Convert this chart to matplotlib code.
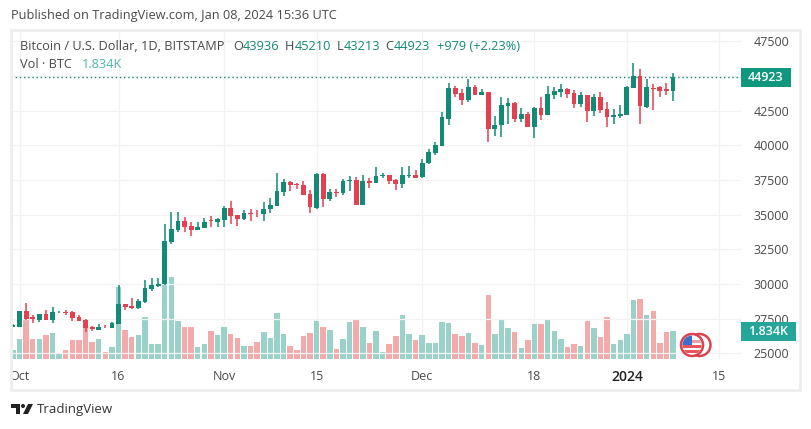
import matplotlib
matplotlib.use("Agg")
import matplotlib.pyplot as plt
from matplotlib.patches import Rectangle, Circle, Polygon

# daily candles, 30 Sep 2023 .. 8 Jan 2024
opens = [26923, 26923, 28054, 27621, 27405, 27838, 27429, 27958, 27982, 27982, 27621, 27404, 26923, 26707, 26923, 26851,
         27116, 28559, 28415, 28270, 28703, 29641, 29858, 29978, 33008, 33898, 34547, 34187, 33922, 34042, 34620, 34499,
         34620, 35461, 34956, 34692, 35100, 35076, 35076, 35413, 35654, 36640, 37361, 37217, 37145, 36495, 35509, 37938,
         36135, 36640, 36567, 37433, 37505, 35702, 37433, 37313, 37818, 37866, 37505, 37217, 37770, 37866,
         37746, 38708, 39455, 39985, 41910, 44145, 43785, 43280, 44215, 43640, 43855, 41185, 41475, 42870, 43060, 41907,
         42270, 41330, 42700, 42195, 43640, 43830, 44070, 43785, 42990, 43640, 42485, 43495, 42630, 42075, 42100,
         42195, 44144, 45000, 42800, 44160, 44240, 44040, 43936]
highs = [27116, 28054, 28631, 27765, 27838, 28126, 28343, 28054, 28126, 28054, 27765, 27477, 26972, 27092, 27044, 27260,
         29930, 28559, 28968, 28944, 30290, 30411, 30411, 34331, 35173, 35173, 34812, 34500, 34500, 34740, 34932, 34740,
         35630, 35990, 34956, 35317, 35389, 35341, 35894, 36183, 38010, 37553, 37409, 37289, 37433, 36784, 38010, 37987,
         36856, 36856, 37554, 37794, 37698, 37866, 37650, 38443, 37987, 37866, 37554, 38443, 38515, 38227,
         39045, 39742, 40250, 42410, 44505, 44290, 44070, 44790, 44360, 44070, 43855, 42120, 43495, 43420, 43110, 42700,
         42390, 42800, 43495, 44290, 44240, 44430, 44120, 44000, 43830, 43640, 43710, 43830, 43110, 42630, 42920,
         44300, 45930, 45500, 44790, 44430, 44300, 44480, 45210]
lows = [26900, 26923, 27405, 27212, 27260, 27405, 27212, 27910, 27765, 27356, 27332, 26539, 26611, 26683, 26827, 26827,
        27116, 28126, 28198, 28222, 28631, 29521, 29810, 29930, 32912, 33778, 33778, 33489, 33898, 34018, 34138, 34138,
        34138, 34331, 34211, 34620, 34572, 34860, 34572, 35149, 35654, 36375, 36736, 36832, 36447, 35100, 35437, 35582,
        36014, 36303, 36447, 36712, 35702, 35702, 36953, 37313, 37674, 37217, 36784, 36953, 37626, 37626,
        37674, 38660, 39310, 39985, 41475, 43470, 42920, 43160, 43640, 43640, 40270, 40705, 40635, 41550, 41715, 41715,
        41330, 40560, 41835, 42195, 43325, 43520, 43400, 42725, 42800, 41715, 42125, 42365, 41350, 41550, 42000,
        42195, 44144, 41540, 42725, 42550, 43500, 43630, 43213]
closes = [27044, 28054, 27477, 27453, 27838, 27429, 27982, 27982, 27934, 27549, 27356, 26827, 26731, 26923, 26875, 27188,
          28559, 28343, 28270, 28775, 29713, 29930, 30002, 33104, 33946, 34547, 34139, 33922, 34090, 34500, 34572, 34692,
          35461, 34932, 34692, 35100, 35052, 35028, 35413, 35702, 36712, 37361, 37169, 37145, 36447, 35557, 37938, 36135,
          36640, 36591, 37433, 37505, 35702, 37433, 37313, 37794, 37866, 37457, 37217, 37866, 37842, 37626,
          38756, 39526, 40030, 42050, 44145, 43710, 43280, 44215, 43640, 43855, 41185, 41475, 42920, 43060, 41907, 42270,
          41330, 42725, 42195, 43710, 43925, 44050, 43710, 42990, 43640, 42485, 43495, 42560, 42050, 42170, 42240,
          44216, 45010, 42860, 44216, 44050, 43930, 43960, 44923]
volumes = [0.60, 1.32, 2.58, 1.32, 1.32, 1.59, 1.72, 0.40, 0.60, 1.26, 1.26, 2.05, 1.13, 1.32, 0.46, 0.79,
           4.77, 1.92, 1.46, 1.59, 2.78, 0.99, 0.99, 5.10, 5.43, 2.52, 2.12, 2.12, 0.79, 0.99, 1.85, 1.59,
           2.12, 1.66, 1.39, 0.86, 0.86, 1.13, 1.79, 1.37, 3.02, 1.63, 0.84, 0.57, 1.50, 1.70, 2.49, 2.10,
           1.90, 0.64, 1.30, 2.43, 2.63, 2.10, 1.04, 1.83, 0.44, 0.97, 1.50, 2.89, 1.63, 1.24, 1.57, 1.04,
           1.04, 2.43, 2.36, 1.63, 1.50, 1.70, 1.04, 0.91, 4.22, 1.63, 2.63, 2.03, 1.77, 0.71, 1.24, 2.30,
           2.30, 2.56, 1.83, 1.30, 0.77, 0.97, 0.84, 2.49, 2.03, 1.43, 2.76, 0.97, 1.24, 1.63, 3.89, 3.95,
           2.89, 3.16, 1.04, 1.77, 1.83]
n = len(volumes)
assert len(opens) == n and len(highs) == n and len(lows) == n and len(closes) == n
days = [i - 1 for i in range(n)]  # day 0 = 1 Oct

price_ticks = [25000, 27500, 30000, 32500, 35000, 37500, 40000, 42500, 45000, 47500]
date_ticks = [0, 15, 31, 45, 61, 78, 92, 106]
date_labels = ["Oct", "16", "Nov", "15", "Dec", "18", "2024", "15"]
last_close = 44923
last_vol_k = 1.834

W, H = 811, 429
GREEN = "#128a76"
RED = "#e4404f"
GREEN_V = "#9ad2ca"
RED_V = "#f2aaaa"
TXT = "#4a4a4a"
plt.rcParams['font.family'] = ['Open Sans', 'DejaVu Sans']

fig = plt.figure(figsize=(W / 100, H / 100), dpi=100, facecolor="white")

L, R, T, B = 11, 741, 30, 359
ax_vol = fig.add_axes([L / W, 1 - B / H, (R - L) / W, (B - T) / H])
ax = ax_vol.twinx()
ax.set_zorder(ax_vol.get_zorder() + 1)
ax.patch.set_visible(False)

# volume
vcols = [GREEN_V if closes[i] >= opens[i] else RED_V for i in range(n)]
ax_vol.bar(days, volumes, width=0.82, color=vcols, linewidth=0)
ax_vol.set_ylim(0, (B - T) / 15.1)
ax_vol.set_xlim(-1.3, 109.3)
ax_vol.set_yticks([])
ax_vol.set_xticks(date_ticks)
ax_vol.set_xticklabels(date_labels, fontsize=9, color=TXT)
ax_vol.tick_params(axis="x", length=0, pad=8)
ax_vol.grid(axis="x", color="#f2f2f2", lw=0.9)
ax_vol.set_axisbelow(True)
for lab in ax_vol.get_xticklabels():
    if lab.get_text() == "2024":
        lab.set_color("#222222")
        lab.set_fontweight("semibold")
        lab.set_fontsize(10)

# candles
for i in range(n):
    c = GREEN if closes[i] >= opens[i] else RED
    ax.vlines(days[i], lows[i], highs[i], color=c, lw=1.1, zorder=3)
    b = min(opens[i], closes[i])
    h = max(abs(closes[i] - opens[i]), 40)
    ax.bar(days[i], h, bottom=b, width=0.74, color=c, linewidth=0, zorder=4)

ax.set_ylim(25000 - 5.7 / 0.013858, 25000 + 323.3 / 0.013858)
ax.set_yticks(price_ticks)
# 45000 sits under the last price badge
ax.set_yticklabels(["" if p == 45000 else str(p) for p in price_ticks], fontsize=9, color=TXT)
ax.tick_params(axis="y", length=0, pad=9)
ax.grid(axis="y", color="#f2f2f2", lw=0.9)
ax.set_axisbelow(True)
for a in (ax, ax_vol):
    for s in a.spines.values():
        s.set_visible(False)
ax.axhline(last_close, color=GREEN, lw=1, ls=(0, (1, 2)), zorder=2)

# overlay in pixel coordinates for frame, labels, logo
ov = fig.add_axes([0, 0, 1, 1], facecolor="none")
ov.set_zorder(ax.get_zorder() + 1)
ov.set_xlim(0, W)
ov.set_ylim(H, 0)
ov.axis("off")
ov.add_patch(Rectangle((11, 30), 789, 360, fill=False, ec="#eeeeee", lw=2))

ov.text(11, 16, "Published on TradingView.com, Jan 08, 2024 15:36 UTC", fontsize=9.2, color=TXT, va="center")
ov.text(20, 46, "Bitcoin / U.S. Dollar, 1D, BITSTAMP", fontsize=9.2, color=TXT, va="center")
ov.text(20, 65, "Vol · BTC", fontsize=9.2, color=TXT, va="center")
ov.text(82, 65, "1.834K", fontsize=9.2, color="#4db6a8", va="center")
for x, s, col in [(233, "O", TXT), (243, "43936", GREEN), (285, "H", TXT), (295, "45210", GREEN),
                  (337, "L", TXT), (344, "43213", GREEN), (385, "C", TXT), (394, "44923", GREEN),
                  (437, "+979 (+2.23%)", GREEN)]:
    ov.text(x, 46, s, fontsize=9.2, color=col, va="center")

ov.add_patch(Rectangle((741, 68), 50, 19, fc="#12977f", ec="none"))
ov.text(766, 77.5, "44923", fontsize=9, color="white", fontweight="semibold", ha="center", va="center")
ov.add_patch(Rectangle((741, 322), 55, 19, fc="#26a69a", ec="none"))
ov.text(768, 331.5, f"{last_vol_k}K", fontsize=9, color="white", fontweight="semibold", ha="center", va="center")

# currency/flag icon
ov.add_patch(Circle((699.5, 345), 11, fc="white", ec="#d9454f", lw=1.8, zorder=5))
ov.add_patch(Circle((692, 345), 11, fc="white", ec="#d9454f", lw=1.8, zorder=6))
fl = Circle((692, 345), 9.5, fc="none", ec="none", zorder=6)
ov.add_patch(fl)
for yy, col in [(340, "#f0a0a4"), (345, "#e8555f"), (350, "#e8555f")]:
    r = Rectangle((682, yy), 20, 2.6, fc=col, ec="none", zorder=7)
    ov.add_patch(r)
    r.set_clip_path(fl)
b = Rectangle((682, 335), 10, 10, fc="#3a6fd0", ec="none", zorder=8)
ov.add_patch(b)
b.set_clip_path(fl)

# logo
ov.add_patch(Polygon([(11, 404), (20, 404), (20, 414), (16, 414), (16, 408), (11, 408)], fc="#222222", ec="none"))
ov.add_patch(Circle((23, 406), 2, fc="#222222", ec="none"))
ov.add_patch(Polygon([(28, 404), (33, 404), (28, 414), (23, 414)], fc="#222222", ec="none"))
ov.text(37, 410, "TradingView", fontsize=9.5, color="#333333", va="center")

fig.savefig("out.png", dpi=100)
